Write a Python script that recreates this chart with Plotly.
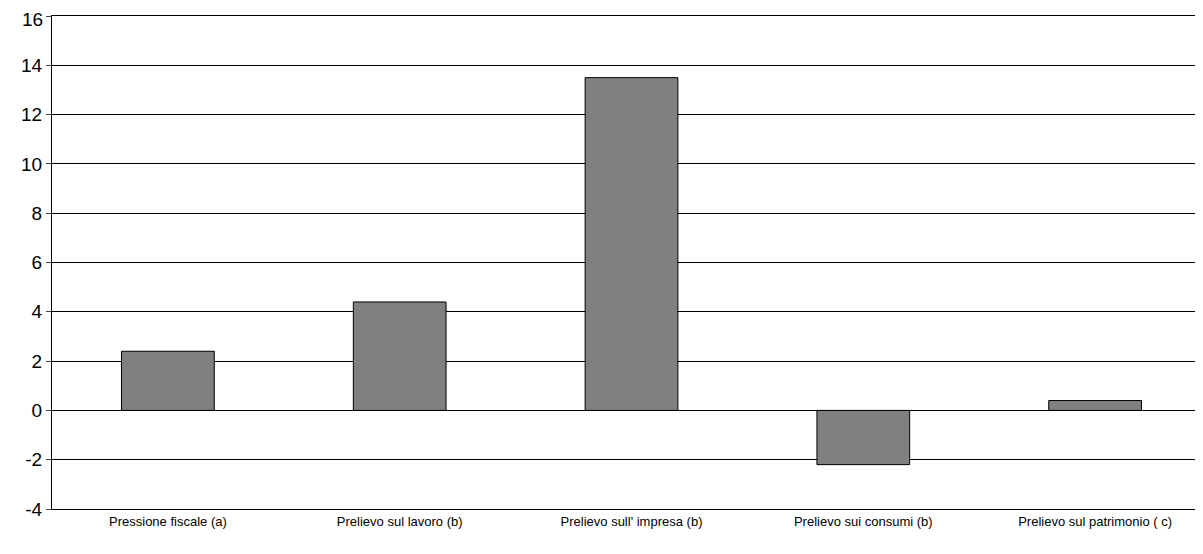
import plotly.graph_objects as go

categories = ["Pressione fiscale (a)", "Prelievo sul lavoro (b)", "Prelievo sull' impresa (b)",
              "Prelievo sui consumi (b)", "Prelievo sul patrimonio ( c)"]
values = [2.4, 4.4, 13.5, -2.2, 0.4]
y_ticks = [-4, -2, 0, 2, 4, 6, 8, 10, 12, 14, 16]

fig = go.Figure(go.Bar(x=categories, y=values, width=0.4,
                       marker=dict(color="#808080", line=dict(color="black", width=1))))
fig.update_layout(
    width=1203, height=554, plot_bgcolor="white", paper_bgcolor="white",
    margin=dict(l=44, r=0, t=8, b=53), showlegend=False,
    font=dict(family="Liberation Sans", color="black"),
)
fig.update_yaxes(range=[-4, 16], tickvals=y_ticks, ticktext=[str(v) for v in y_ticks],
                 showgrid=True, gridcolor="black", gridwidth=1,
                 zeroline=True, zerolinecolor="black", zerolinewidth=1,
                 showline=True, linecolor="black", ticks="outside", ticklen=5,
                 tickfont=dict(size=19), mirror=True, automargin=False)
fig.update_xaxes(showline=True, linecolor="black", mirror=True, tickfont=dict(size=13),
                 ticks="", showgrid=False, automargin=False)
# top tick label gets clipped by plotly, draw it as annotation
fig.add_annotation(x=0, xref="paper", y=y_ticks[-1], yref="y", text=str(y_ticks[-1]),
                   showarrow=False, xanchor="right", yanchor="middle",
                   xshift=-7, yshift=-3, font=dict(size=19))
fig.write_html("out.html")
